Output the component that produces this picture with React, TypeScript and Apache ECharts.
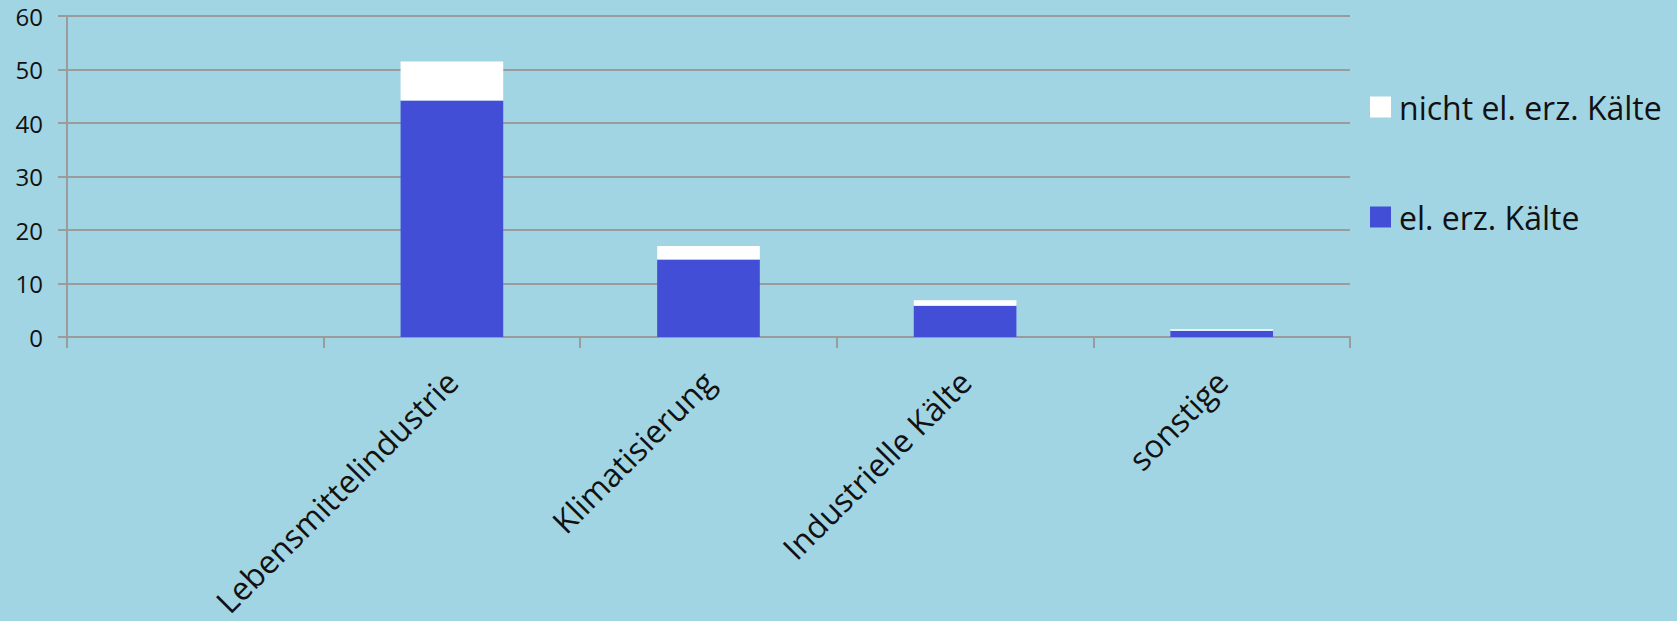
import React, { useEffect, useRef } from "react";
import * as echarts from "echarts";

const categories = ["", "Lebensmittelindustrie", "Klimatisierung", "Industrielle Kälte", "sonstige"];
const elValues = [null, 44.2, 14.5, 5.85, 1.15];
const nichtElValues = [null, 7.3, 2.5, 1.0, 0.3];
const yTicks = { min: 0, max: 60, interval: 10 };

const FONT = "Open Sans";
const GRID = "#9b9b9b";

export default function App() {
  const ref = useRef<HTMLDivElement>(null);
  useEffect(() => {
    if (!ref.current) return;
    const chart = echarts.init(ref.current, null, { renderer: "svg" });
    chart.setOption({
      animation: false,
      backgroundColor: "#A2D5E4",
      textStyle: { fontFamily: FONT },
      grid: { left: 67, right: 327, top: 16, bottom: 284, containLabel: false, outerBoundsMode: "none" },
      legend: {
        orient: "vertical",
        left: 1365,
        top: 86,
        itemWidth: 21,
        itemHeight: 21,
        itemGap: 78,
        icon: "rect",
        data: ["nicht el. erz. Kälte", "el. erz. Kälte"],
        textStyle: { fontFamily: FONT, fontSize: 32, color: "#111", padding: [0, 0, 0, 3] },
      },
      xAxis: {
        type: "category",
        data: categories,
        boundaryGap: true,
        axisLine: { show: true, lineStyle: { color: GRID, width: 2 } },
        axisTick: { show: true, alignWithLabel: false, length: 11, lineStyle: { color: GRID, width: 2 } },
        axisLabel: {
          interval: 0,
          rotate: 45,
          align: "right",
          verticalAlign: "middle",
          margin: 39,
          fontFamily: FONT,
          fontSize: 32,
          lineHeight: 24,
          color: "#111",
        },
        splitLine: { show: false },
      },
      yAxis: {
        type: "value",
        min: yTicks.min,
        max: yTicks.max,
        interval: yTicks.interval,
        axisLine: { show: true, lineStyle: { color: GRID, width: 2 } },
        axisTick: { show: true, length: 9, lineStyle: { color: GRID, width: 2 } },
        axisLabel: { margin: 24, fontFamily: FONT, fontSize: 24, color: "#111" },
        splitLine: { show: true, lineStyle: { color: GRID, width: 2 } },
      },
      series: [
        {
          name: "el. erz. Kälte",
          type: "bar",
          stack: "total",
          barWidth: "40%",
          data: elValues,
          itemStyle: { color: "#434ED6" },
        },
        {
          name: "nicht el. erz. Kälte",
          type: "bar",
          stack: "total",
          barWidth: "40%",
          data: nichtElValues,
          itemStyle: { color: "#FFFFFF" },
        },
      ],
    });
    return () => chart.dispose();
  }, []);
  return <div ref={ref} style={{ position: "fixed", left: 0, top: 0, width: 1677, height: 621 }} />;
}
